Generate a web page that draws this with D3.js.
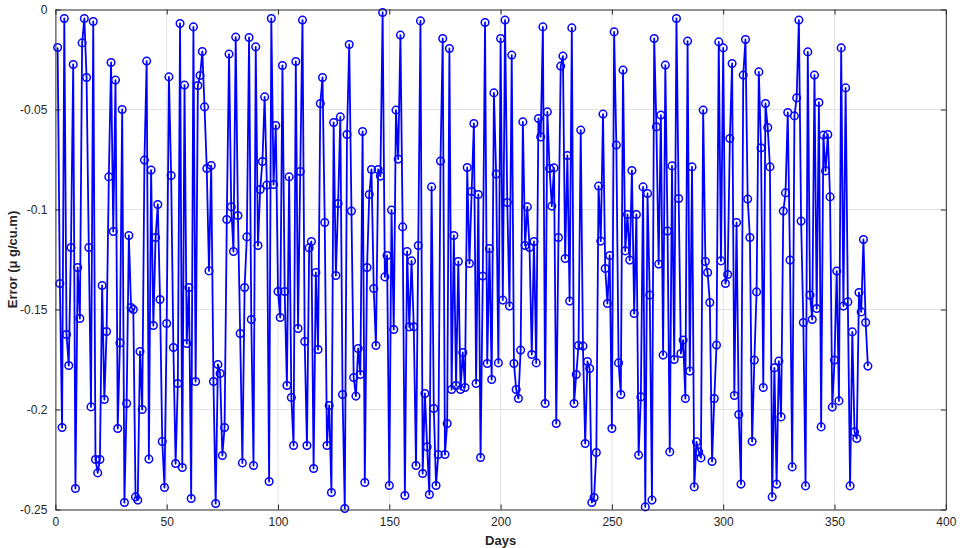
<!DOCTYPE html>
<html>
<head>
<meta charset="utf-8">
<script src="https://cdn.jsdelivr.net/npm/d3@7"></script>
<style>
  html, body { margin: 0; padding: 0; background: #fff; }
  svg { display: block; }
  text { font-family: "Liberation Sans", Arial, Helvetica, sans-serif; }
</style>
</head>
<body>
<svg id="chart" width="963" height="548"></svg>
<script>
// Daily error values (µg/cu.m), one per day starting at day 1
const errorValues = [
  -0.019, -0.137, -0.209, -0.0045, -0.1625, -0.178, -0.119, -0.0275, -0.2395, -0.129,
  -0.1545, -0.0167, -0.0045, -0.034, -0.119, -0.1987, -0.006, -0.225, -0.2317, -0.225,
  -0.138, -0.195, -0.161, -0.0837, -0.0265, -0.111, -0.0353, -0.2095, -0.1667, -0.050,
  -0.2465, -0.197, -0.113, -0.149, -0.150, -0.2437, -0.2453, -0.171, -0.200, -0.0753,
  -0.0258, -0.2248, -0.0803, -0.158, -0.114, -0.0975, -0.145, -0.216, -0.239, -0.157,
  -0.0337, -0.083, -0.169, -0.227, -0.187, -0.007, -0.229, -0.0378, -0.167, -0.139,
  -0.2445, -0.0087, -0.186, -0.038, -0.033, -0.021, -0.0487, -0.0795, -0.1307, -0.078,
  -0.186, -0.247, -0.1775, -0.182, -0.223, -0.209, -0.105, -0.0223, -0.0987, -0.121,
  -0.0138, -0.103, -0.162, -0.2267, -0.139, -0.1137, -0.014, -0.155, -0.228, -0.0187,
  -0.118, -0.09, -0.076, -0.0437, -0.0878, -0.236, -0.0045, -0.0875, -0.058, -0.141,
  -0.154, -0.028, -0.141, -0.188, -0.0837, -0.194, -0.218, -0.026, -0.1595, -0.081,
  -0.0053, -0.166, -0.218, -0.1192, -0.116, -0.2295, -0.1315, -0.17, -0.047, -0.034,
  -0.1065, -0.218, -0.198, -0.2415, -0.0565, -0.133, -0.097, -0.0537, -0.1925, -0.2495,
  -0.0625, -0.0175, -0.1008, -0.184, -0.1933, -0.1695, -0.1825, -0.061, -0.2365, -0.129,
  -0.0925, -0.08, -0.1395, -0.168, -0.08, -0.0833, -0.0015, -0.1337, -0.123, -0.238,
  -0.1003, -0.160, -0.0503, -0.0748, -0.0128, -0.1087, -0.243, -0.121, -0.1587, -0.1257,
  -0.1587, -0.228, -0.118, -0.0057, -0.232, -0.192, -0.2187, -0.2425, -0.0887, -0.1995,
  -0.238, -0.2225, -0.0758, -0.0145, -0.2225, -0.207, -0.0195, -0.190, -0.113, -0.188,
  -0.126, -0.190, -0.1715, -0.189, -0.079, -0.127, -0.091, -0.057, -0.187, -0.0925,
  -0.224, -0.1333, -0.0065, -0.177, -0.1195, -0.185, -0.0417, -0.0823, -0.1767, -0.0145,
  -0.1453, -0.0053, -0.0965, -0.1483, -0.0228, -0.177, -0.19, -0.1945, -0.1703, -0.0562,
  -0.118, -0.0987, -0.119, -0.1725, -0.116, -0.1767, -0.0545, -0.0637, -0.0087, -0.197,
  -0.0512, -0.0795, -0.0983, -0.0792, -0.207, -0.114, -0.0283, -0.0233, -0.1245, -0.073,
  -0.1458, -0.0092, -0.197, -0.1825, -0.168, -0.0603, -0.1683, -0.217, -0.176, -0.1795,
  -0.2465, -0.244, -0.2215, -0.0883, -0.1158, -0.0523, -0.1295, -0.147, -0.123, -0.2095,
  -0.0112, -0.0678, -0.1767, -0.1925, -0.0303, -0.1207, -0.1025, -0.1253, -0.0805, -0.152,
  -0.1025, -0.2228, -0.1937, -0.0887, -0.2487, -0.092, -0.1428, -0.2453, -0.0145, -0.0587,
  -0.1273, -0.0528, -0.1728, -0.0278, -0.1108, -0.2212, -0.0782, -0.175, -0.0045, -0.0945,
  -0.172, -0.1653, -0.1945, -0.0158, -0.1808, -0.0787, -0.2387, -0.2162, -0.2212, -0.2242,
  -0.0503, -0.126, -0.1315, -0.1465, -0.226, -0.1945, -0.1678, -0.0162, -0.1257, -0.0192,
  -0.137, -0.1325, -0.0645, -0.027, -0.193, -0.1065, -0.2025, -0.2373, -0.0328, -0.015,
  -0.0948, -0.114, -0.216, -0.1753, -0.1412, -0.0312, -0.0692, -0.189, -0.047, -0.059,
  -0.0787, -0.2437, -0.1792, -0.2373, -0.1758, -0.2037, -0.1008, -0.0917, -0.0515, -0.1253,
  -0.2287, -0.0532, -0.0442, -0.0053, -0.1058, -0.1565, -0.2382, -0.0212, -0.1428, -0.155,
  -0.0328, -0.1495, -0.0465, -0.2087, -0.0628, -0.0807, -0.0625, -0.0937, -0.1988, -0.1753,
  -0.1308, -0.1957, -0.0192, -0.1483, -0.0392, -0.1462, -0.2382, -0.1612, -0.2112, -0.2145,
  -0.1415, -0.1512, -0.115, -0.1565, -0.1783
];

// Day numbers paired with the values (1, 2, 3, ...)
const days = errorValues.map((_, i) => i + 1);

// Axis ticks and labels
const xTicks = [0, 50, 100, 150, 200, 250, 300, 350, 400];
const yTicks = [0, -0.05, -0.1, -0.15, -0.2, -0.25];
const yTickLabels = ["0", "-0.05", "-0.1", "-0.15", "-0.2", "-0.25"];
const xTitle = "Days";
const yTitle = "Error (\u03BC g/cu.m)";

const svg = d3.select("#chart");
const plot = { left: 55.4, right: 945.8, top: 9.5, bottom: 509.5 };

const x = d3.scaleLinear().domain([0, 400]).range([plot.left, plot.right]);
const y = d3.scaleLinear().domain([-0.25, 0]).range([plot.bottom, plot.top]);

const axisColor = "#262626";
const gridColor = "#e3e3e3";

// Plot background
svg.append("rect")
  .attr("x", plot.left).attr("y", plot.top)
  .attr("width", plot.right - plot.left).attr("height", plot.bottom - plot.top)
  .attr("fill", "#fff");

// Grid lines
const grid = svg.append("g").attr("stroke", gridColor).attr("stroke-width", 1);
grid.selectAll("line.gx").data(xTicks.slice(1, -1)).join("line")
  .attr("x1", d => x(d)).attr("x2", d => x(d))
  .attr("y1", plot.top).attr("y2", plot.bottom);
grid.selectAll("line.gy").data(yTicks.slice(1, -1)).join("line")
  .attr("y1", d => y(d)).attr("y2", d => y(d))
  .attr("x1", plot.left).attr("x2", plot.right);

// Series line and open-circle markers
const line = d3.line().x((d, i) => x(days[i])).y(d => y(d));
svg.append("path")
  .datum(errorValues)
  .attr("fill", "none")
  .attr("stroke", "#0000ff")
  .attr("stroke-width", 1.8)
  .attr("stroke-linejoin", "round")
  .attr("d", line);

svg.append("g").selectAll("circle").data(errorValues).join("circle")
  .attr("cx", (d, i) => x(days[i]))
  .attr("cy", d => y(d))
  .attr("r", 3.8)
  .attr("fill", "none")
  .attr("stroke", "#0000ff")
  .attr("stroke-width", 1.5);

// Axes (inward ticks, box style)
const tickLen = 5;
const xAxisBottom = d3.axisBottom(x).tickValues(xTicks).tickSizeInner(-tickLen).tickSizeOuter(0).tickPadding(8);
const xAxisTop = d3.axisTop(x).tickValues(xTicks).tickSizeInner(-tickLen).tickSizeOuter(0).tickFormat("");
const yAxisLeft = d3.axisLeft(y).tickValues(yTicks).tickSizeInner(-tickLen).tickSizeOuter(0).tickPadding(8)
  .tickFormat((d, i) => yTickLabels[i]);
const yAxisRight = d3.axisRight(y).tickValues(yTicks).tickSizeInner(-tickLen).tickSizeOuter(0).tickFormat("");

function styleAxis(g) {
  g.select(".domain").attr("stroke", axisColor).attr("stroke-width", 1);
  g.selectAll(".tick line").attr("stroke", axisColor).attr("stroke-width", 1);
  g.selectAll(".tick text").attr("fill", axisColor).attr("font-size", 12)
    .style("font-family", "'Liberation Sans', Arial, sans-serif");
}

svg.append("g").attr("transform", `translate(0,${plot.bottom})`).call(xAxisBottom).call(styleAxis);
svg.append("g").attr("transform", `translate(0,${plot.top})`).call(xAxisTop).call(styleAxis);
svg.append("g").attr("transform", `translate(${plot.left},0)`).call(yAxisLeft).call(styleAxis);
svg.append("g").attr("transform", `translate(${plot.right},0)`).call(yAxisRight).call(styleAxis);

// Axis titles
svg.append("text")
  .attr("x", (plot.left + plot.right) / 2)
  .attr("y", 545)
  .attr("text-anchor", "middle")
  .attr("font-size", 13)
  .attr("font-weight", "bold")
  .attr("fill", axisColor)
  .text(xTitle);

svg.append("text")
  .attr("transform", `translate(17,${(plot.top + plot.bottom) / 2}) rotate(-90)`)
  .attr("text-anchor", "middle")
  .attr("font-size", 13)
  .attr("font-weight", "bold")
  .attr("fill", axisColor)
  .text(yTitle);
</script>
</body>
</html>
